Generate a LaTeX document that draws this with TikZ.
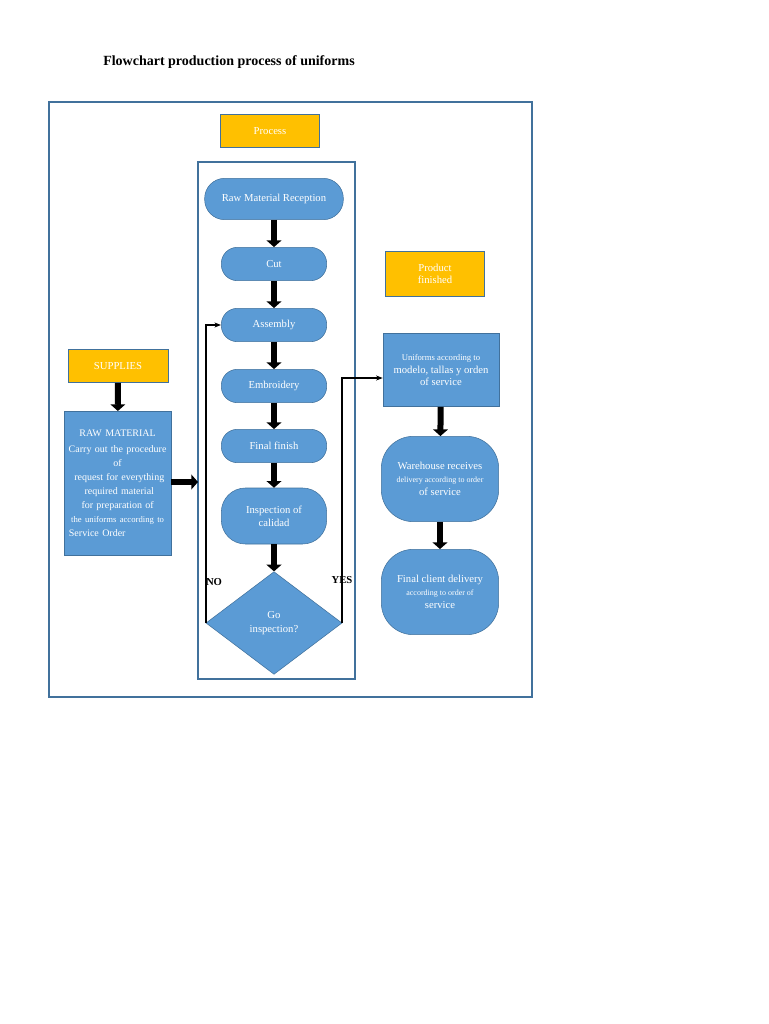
\documentclass[tikz,border=0pt]{standalone}
\usepackage{fontspec}
\setmainfont{Liberation Serif}
\usetikzlibrary{arrows.meta,shapes.geometric}
\definecolor{boxblue}{HTML}{5B9BD5}
\definecolor{edgeblue}{HTML}{41719C}
\definecolor{amber}{HTML}{FFC000}
\tikzset{
  stage/.style={draw=edgeblue, fill=boxblue, text=white, rounded corners=12pt, align=center, font=\fontsize{8}{9.5}\selectfont},
  tag/.style={draw=edgeblue, fill=amber, text=white, align=center, font=\fontsize{8}{9.5}\selectfont},
  fat/.style={line width=4.5pt, -{Triangle[length=5pt,width=11pt]}},
  back/.style={line width=1.2pt, -{Stealth[length=5pt]}},
}
\begin{document}
\begin{tikzpicture}[x=0.75pt,y=-0.75pt]
        \useasboundingbox (0,0) rectangle (768,1024);
        \node[font=\bfseries\fontsize{10.5}{12}\selectfont] (title) at (229,62) {Flowchart production process of uniforms};
        \draw[edgeblue, line width=1.2pt] (49,102) rectangle (532,697);
        \draw[edgeblue, line width=1.2pt] (198,162) rectangle (355,679);

        \node[tag, minimum width=74pt, minimum height=25pt] (proc) at (270,131) {Process};
        \node[tag, minimum width=75pt, minimum height=25pt] (supp) at (118,366) {SUPPLIES};
        \node[tag, minimum width=74pt, minimum height=34pt] (prod) at (435,274) {Product\\finished};

        \node[stage, minimum width=104pt, minimum height=31pt, rounded corners=15pt] (recep) at (274,199) {Raw Material Reception};
        \node[stage, minimum width=79pt, minimum height=25pt] (cut) at (274,264) {Cut};
        \node[stage, minimum width=79pt, minimum height=25pt] (assy) at (274,325) {Assembly};
        \node[stage, minimum width=79pt, minimum height=25pt] (embr) at (274,386) {Embroidery};
        \node[stage, minimum width=79pt, minimum height=25pt] (fin) at (274,446) {Final finish};
        \node[stage, minimum width=79pt, minimum height=42pt, rounded corners=18pt] (insp) at (274,516) {Inspection of\\calidad};
        \node[diamond, draw=edgeblue, fill=boxblue, text=white, aspect=1.32, inner sep=0pt, minimum width=102pt, minimum height=77pt, align=center, font=\fontsize{8}{11}\selectfont] (go) at (274,623) {Go\\inspection?};

        \node[stage, rounded corners=0pt, minimum width=80pt, minimum height=108pt, anchor=north west, align=left, text width=78pt, inner sep=1pt, font=\fontsize{7.5}{10.5}\selectfont] (raw) at (64,411)
          {\centering RAW MATERIAL\\[2pt] Carry out the procedure of\\ \ request for everything\\ \ required material\\ for preparation of\\ {\fontsize{6.5}{10.5}\selectfont the uniforms according to}\\ \ Service Order};

        \node[stage, rounded corners=0pt, minimum width=87pt, minimum height=55pt] (unif) at (441,370) {{\fontsize{6.5}{8}\selectfont Uniforms according to}\\modelo, tallas y orden\\of service};
        \node[stage, rounded corners=24pt, minimum width=88pt, minimum height=64pt] (ware) at (440,479) {Warehouse receives\\{\fontsize{6}{9}\selectfont delivery according to order}\\of service};
        \node[stage, rounded corners=24pt, minimum width=88pt, minimum height=64pt] (client) at (440,592) {Final client delivery\\{\fontsize{6}{9}\selectfont according to order of}\\service};

        \coordinate (frameL) at (198,482);
        \coordinate (noUp) at (206,325);
        \coordinate (yesUp) at (342,378);

        \foreach \from/\to in {recep/cut, cut/assy, assy/embr, embr/fin, fin/insp, insp/go, unif/ware, ware/client}
          \draw[fat] (\from) -- (\to);
        \draw[fat] (supp) -- (raw);
        \draw[fat] (raw.east |- frameL) -- (frameL);

        \draw[back] (go.west) -- (go.west |- noUp) -- (assy.west);
        \draw[back] (go.east) -- (go.east |- yesUp) -- (unif.west |- yesUp);
        \node[font=\bfseries\fontsize{8}{9}\selectfont] (no) at (214,582) {NO};
        \node[font=\bfseries\fontsize{8}{9}\selectfont] (yes) at (342,580) {YES};
      \end{tikzpicture}
\end{document}
